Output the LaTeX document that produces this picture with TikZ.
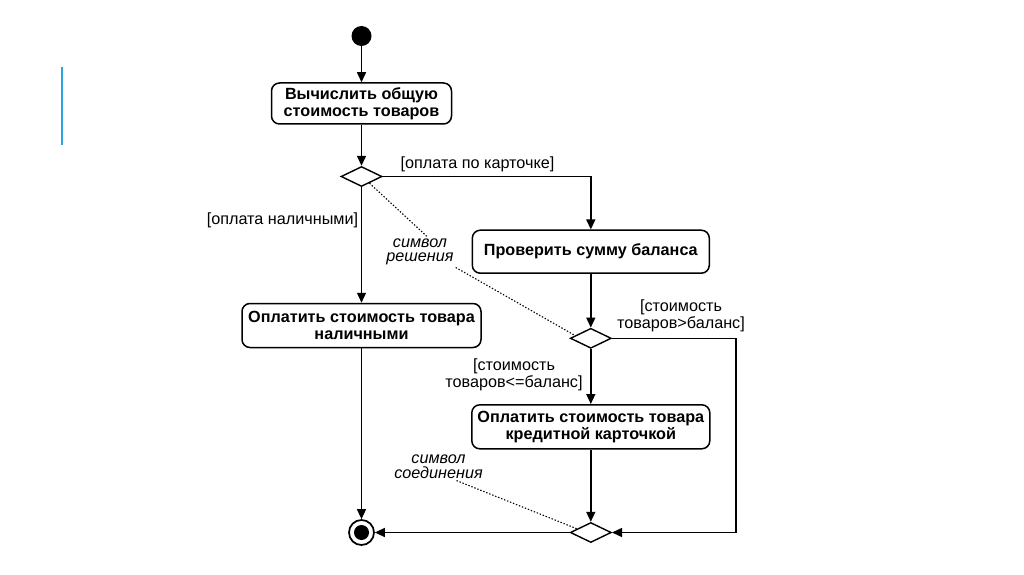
\documentclass[tikz,border=0pt]{standalone}
\usepackage{fontspec}
\setmainfont{Liberation Sans}
\usetikzlibrary{shapes.geometric, arrows.meta, positioning, calc}
\definecolor{slideblue}{HTML}{2AA5DF}
\newcommand\actfont{\bfseries\fontsize{16.2}{16.7}\selectfont}
\newcommand\grdfont{\fontsize{16.2}{16.5}\selectfont}
\newcommand\rmkfont{\itshape\fontsize{16.2}{14.5}\selectfont}
\tikzset{
  % действие (скругленный прямоугольник)
  action/.style={draw, rounded corners=8pt, line width=1.5pt, align=center,
    font=\actfont, minimum height=44pt, inner sep=2pt},
  % ромб ветвления / слияния
  branch/.style={diamond, draw, line width=1.4pt, minimum width=41pt,
    minimum height=20pt, inner sep=0pt},
  % начальное и конечное состояния
  startdot/.style={circle, fill, minimum size=20pt, inner sep=0pt},
  enddot/.style={circle, draw, line width=1.7pt, minimum size=25pt, inner sep=0pt},
  % переход
  flow/.style={-{Triangle[length=10pt, width=9pt]}, line width=1.4pt},
  % сторожевые условия и пояснения
  guard/.style={font=\grdfont, align=center, inner sep=1pt},
  remark/.style={font=\rmkfont, align=center, inner sep=2pt},
  hint/.style={line width=1.1pt, dash pattern=on 1.4pt off 1.8pt},
}
\begin{document}
\begin{tikzpicture}[x=1pt, y=1pt]
  \useasboundingbox (0,0) rectangle (1024,574);
  \draw[slideblue, line width=2pt] (62,507) -- (62,429);
  % левая колонка
  \node[startdot] (start) at (361.5,538) {};
  \node[action, minimum width=180pt, minimum height=41pt] (calc) at (361.5,470.5) {Вычислить общую\\стоимость товаров};
  \node[branch] (d1) at (361.5,397.5) {};
  \node[action, minimum width=239pt] (cash) at (361.5,248.5) {Оплатить стоимость товара\\наличными};
  \node[enddot] (fin) at (361.5,41.5) {};
  \fill (fin.center) circle (7.5pt);
  % правая колонка
  \node[action, minimum width=237pt, minimum height=43pt] (check) at (590.8,322.3) {Проверить сумму баланса};
  \node[branch] (d2) at (590.8,235.7) {};
  \node[action, minimum width=238pt] (card) at (590.8,147.2) {Оплатить стоимость товара\\кредитной карточкой};
  \node[branch] (join) at (590.8,41.5) {};
  \coordinate (loop) at (736,0);
  % условия
  \node[guard] (gcard) at (477.5,410) {[оплата по карточке]};
  \node[guard] (gcash) at (282.5,354) {[оплата наличными]};
  \node[guard] (ggt) at (681,258) {[стоимость\\товаров>баланс]};
  \node[guard] (gle) at (514,199) {[стоимость\\товаров<=баланс]};
  % пояснения
  \node[remark] (ndec) at (420,322) {символ\\решения};
  \node[remark] (njoin) at (438.5,107.3) {символ\\соединения};
  % переходы
  \draw[flow] (start) -- (calc);
  \draw[flow] (calc) -- (d1);
  \draw[flow] (d1) -- (cash);
  \draw[flow] (d1.east) -| (check.north);
  \draw[flow] (check) -- (d2);
  \draw[flow] (d2) -- (card);
  \draw[flow] (d2.east) -- (d2.east -| loop) -- (join.east -| loop) -- (join.east);
  \draw[flow] (card) -- (join);
  \draw[flow] (cash) -- (fin);
  \draw[flow] (join) -- (fin);
  \draw[hint] (d1.-40) -- ([xshift=7pt]ndec.north);
  \draw[hint] (ndec.south east) -- (d2.170);
  \draw[hint] ([xshift=18pt]njoin.south) -- (join.165);
\end{tikzpicture}
\end{document}
